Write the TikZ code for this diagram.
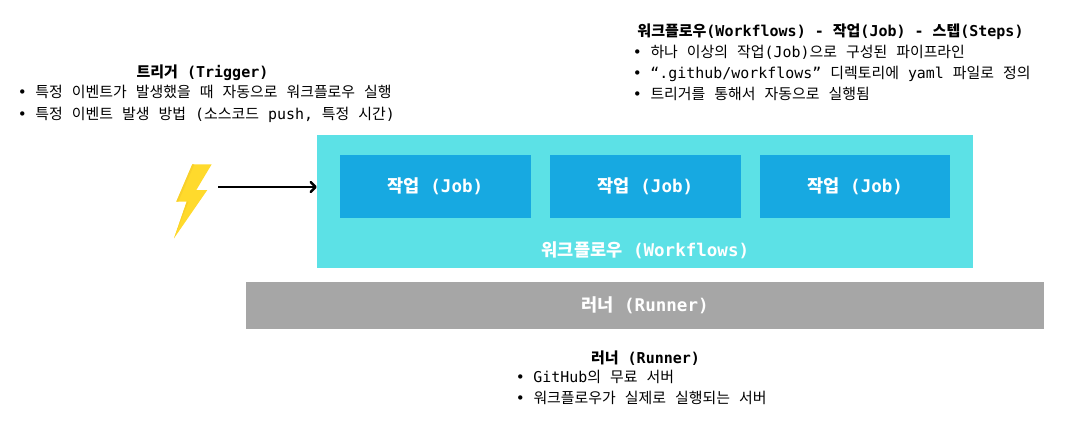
\documentclass[tikz,border=0pt]{standalone}
\usepackage{fontspec}
\setmainfont{DejaVu Sans Mono}
\newfontfamily\krfont{Noto Sans CJK KR}
\usetikzlibrary{arrows.meta,positioning}
% hangul goes to the CJK face, the rest stays mono
\newXeTeXintercharclass\krclass
\count255="AC00
\loop
  \XeTeXcharclass\count255=\krclass
  \ifnum\count255<"D7A3 \advance\count255 by 1 \repeat
\XeTeXinterchartoks 0 \krclass={\krfont}
\XeTeXinterchartoks 4095 \krclass={\krfont}
\XeTeXinterchartoks \krclass 0={\rmfamily}
\XeTeXinterchartoks \krclass 4095={\rmfamily}
\XeTeXinterchartokenstate=1
\definecolor{wfcyan}{HTML}{5CE1E6}
\definecolor{jobblue}{HTML}{17A9E1}
\definecolor{runnergray}{HTML}{A6A6A6}
\definecolor{boltyellow}{HTML}{FFDA2C}
\definecolor{boltshade}{HTML}{F8D02A}
\newcommand{\itm}{\makebox[13.3pt][l]{\textbullet}}
\tikzset{
    wfbox/.style={
        rectangle,
        fill=wfcyan,
        minimum width=492pt,
        minimum height=100pt,
        inner sep=0pt,
    },
    jobbox/.style={
        rectangle,
        fill=jobblue,
        text=white,
        font=\fontsize{13.15pt}{15pt}\selectfont\bfseries,
        minimum width=142.9pt,
        minimum height=47.25pt,
        inner sep=0pt,
    },
    runnerbox/.style={
        rectangle,
        fill=runnergray,
        text=white,
        font=\fontsize{13.15pt}{15pt}\selectfont\bfseries,
        minimum width=598.5pt,
        minimum height=35.25pt,
        inner sep=0pt,
    },
    heading/.style={
        font=\fontsize{11.25pt}{13pt}\selectfont\bfseries,
        inner sep=0pt,
    },
    notes/.style={
        align=left,
        anchor=north west,
        font=\fontsize{11.2pt}{15.6pt}\selectfont,
        inner sep=0pt,
    },
}
\begin{document}
\begin{tikzpicture}[x=0.75pt,y=-0.75pt,>={Straight Barb[length=3.6pt,width=7.5pt,round]}]
    \useasboundingbox (0,0) rectangle (1068,429);
    \node [wfbox] (workflows) at (645,201.5) {};
    \node [jobbox] (job1) at (435.4,186.5) {작업 (Job)};
    \node [jobbox] (job2) at (645.4,186.5) {작업 (Job)};
    \node [jobbox] (job3) at (855.2,186.5) {작업 (Job)};
    \node [font=\fontsize{13.15pt}{15pt}\selectfont\bfseries,text=white,inner sep=0pt] (wflabel) at (645.5,250.5) {워크플로우 (Workflows)};
    \node [runnerbox] (runner) at (645,305.5) {러너 (Runner)};
    % lightning bolt
    \fill [boltyellow] (192.3,164.3) -- (211.7,164.3) -- (196.3,190) -- (207.3,190) -- (174,238.3) -- (186.7,201.7) -- (176.3,201.7) -- cycle;
    \fill [boltshade] (192.3,164.3) -- (194.3,164.3) -- (178.3,201.7) -- (176.3,201.7) -- cycle;
    \fill [boltshade] (174,238.3) -- (186.7,201.7) -- (188.5,201.7) -- cycle;
    \coordinate (bolt) at (218,187);
    \draw [->,line width=1.9pt] (bolt) -- (workflows.west |- bolt);
    % notes
    \node [heading] (trighead) at (202.5,72.5) {트리거 (Trigger)};
    \node [notes,font=\fontsize{11.2pt}{16.5pt}\selectfont] (triglist) at (17.5,85) {\itm 특정 이벤트가 발생했을 때 자동으로 워크플로우 실행\\\itm 특정 이벤트 발생 방법 (소스코드 push, 특정 시간)};
    \node [heading] (wfhead) at (830.5,32) {워크플로우(Workflows) - 작업(Job) - 스텝(Steps)};
    \node [notes] (wflist) at (632.5,45) {\itm 하나 이상의 작업(Job)으로 구성된 파이프라인\\\itm “.github/workflows” 디렉토리에 yaml 파일로 정의\\\itm 트리거를 통해서 자동으로 실행됨};
    \node [heading] (runhead) at (645.5,358) {러너 (Runner)};
    \node [notes] (runlist) at (515.5,370) {\itm GitHub의 무료 서버\\\itm 워크플로우가 실제로 실행되는 서버};
\end{tikzpicture}
\end{document}
